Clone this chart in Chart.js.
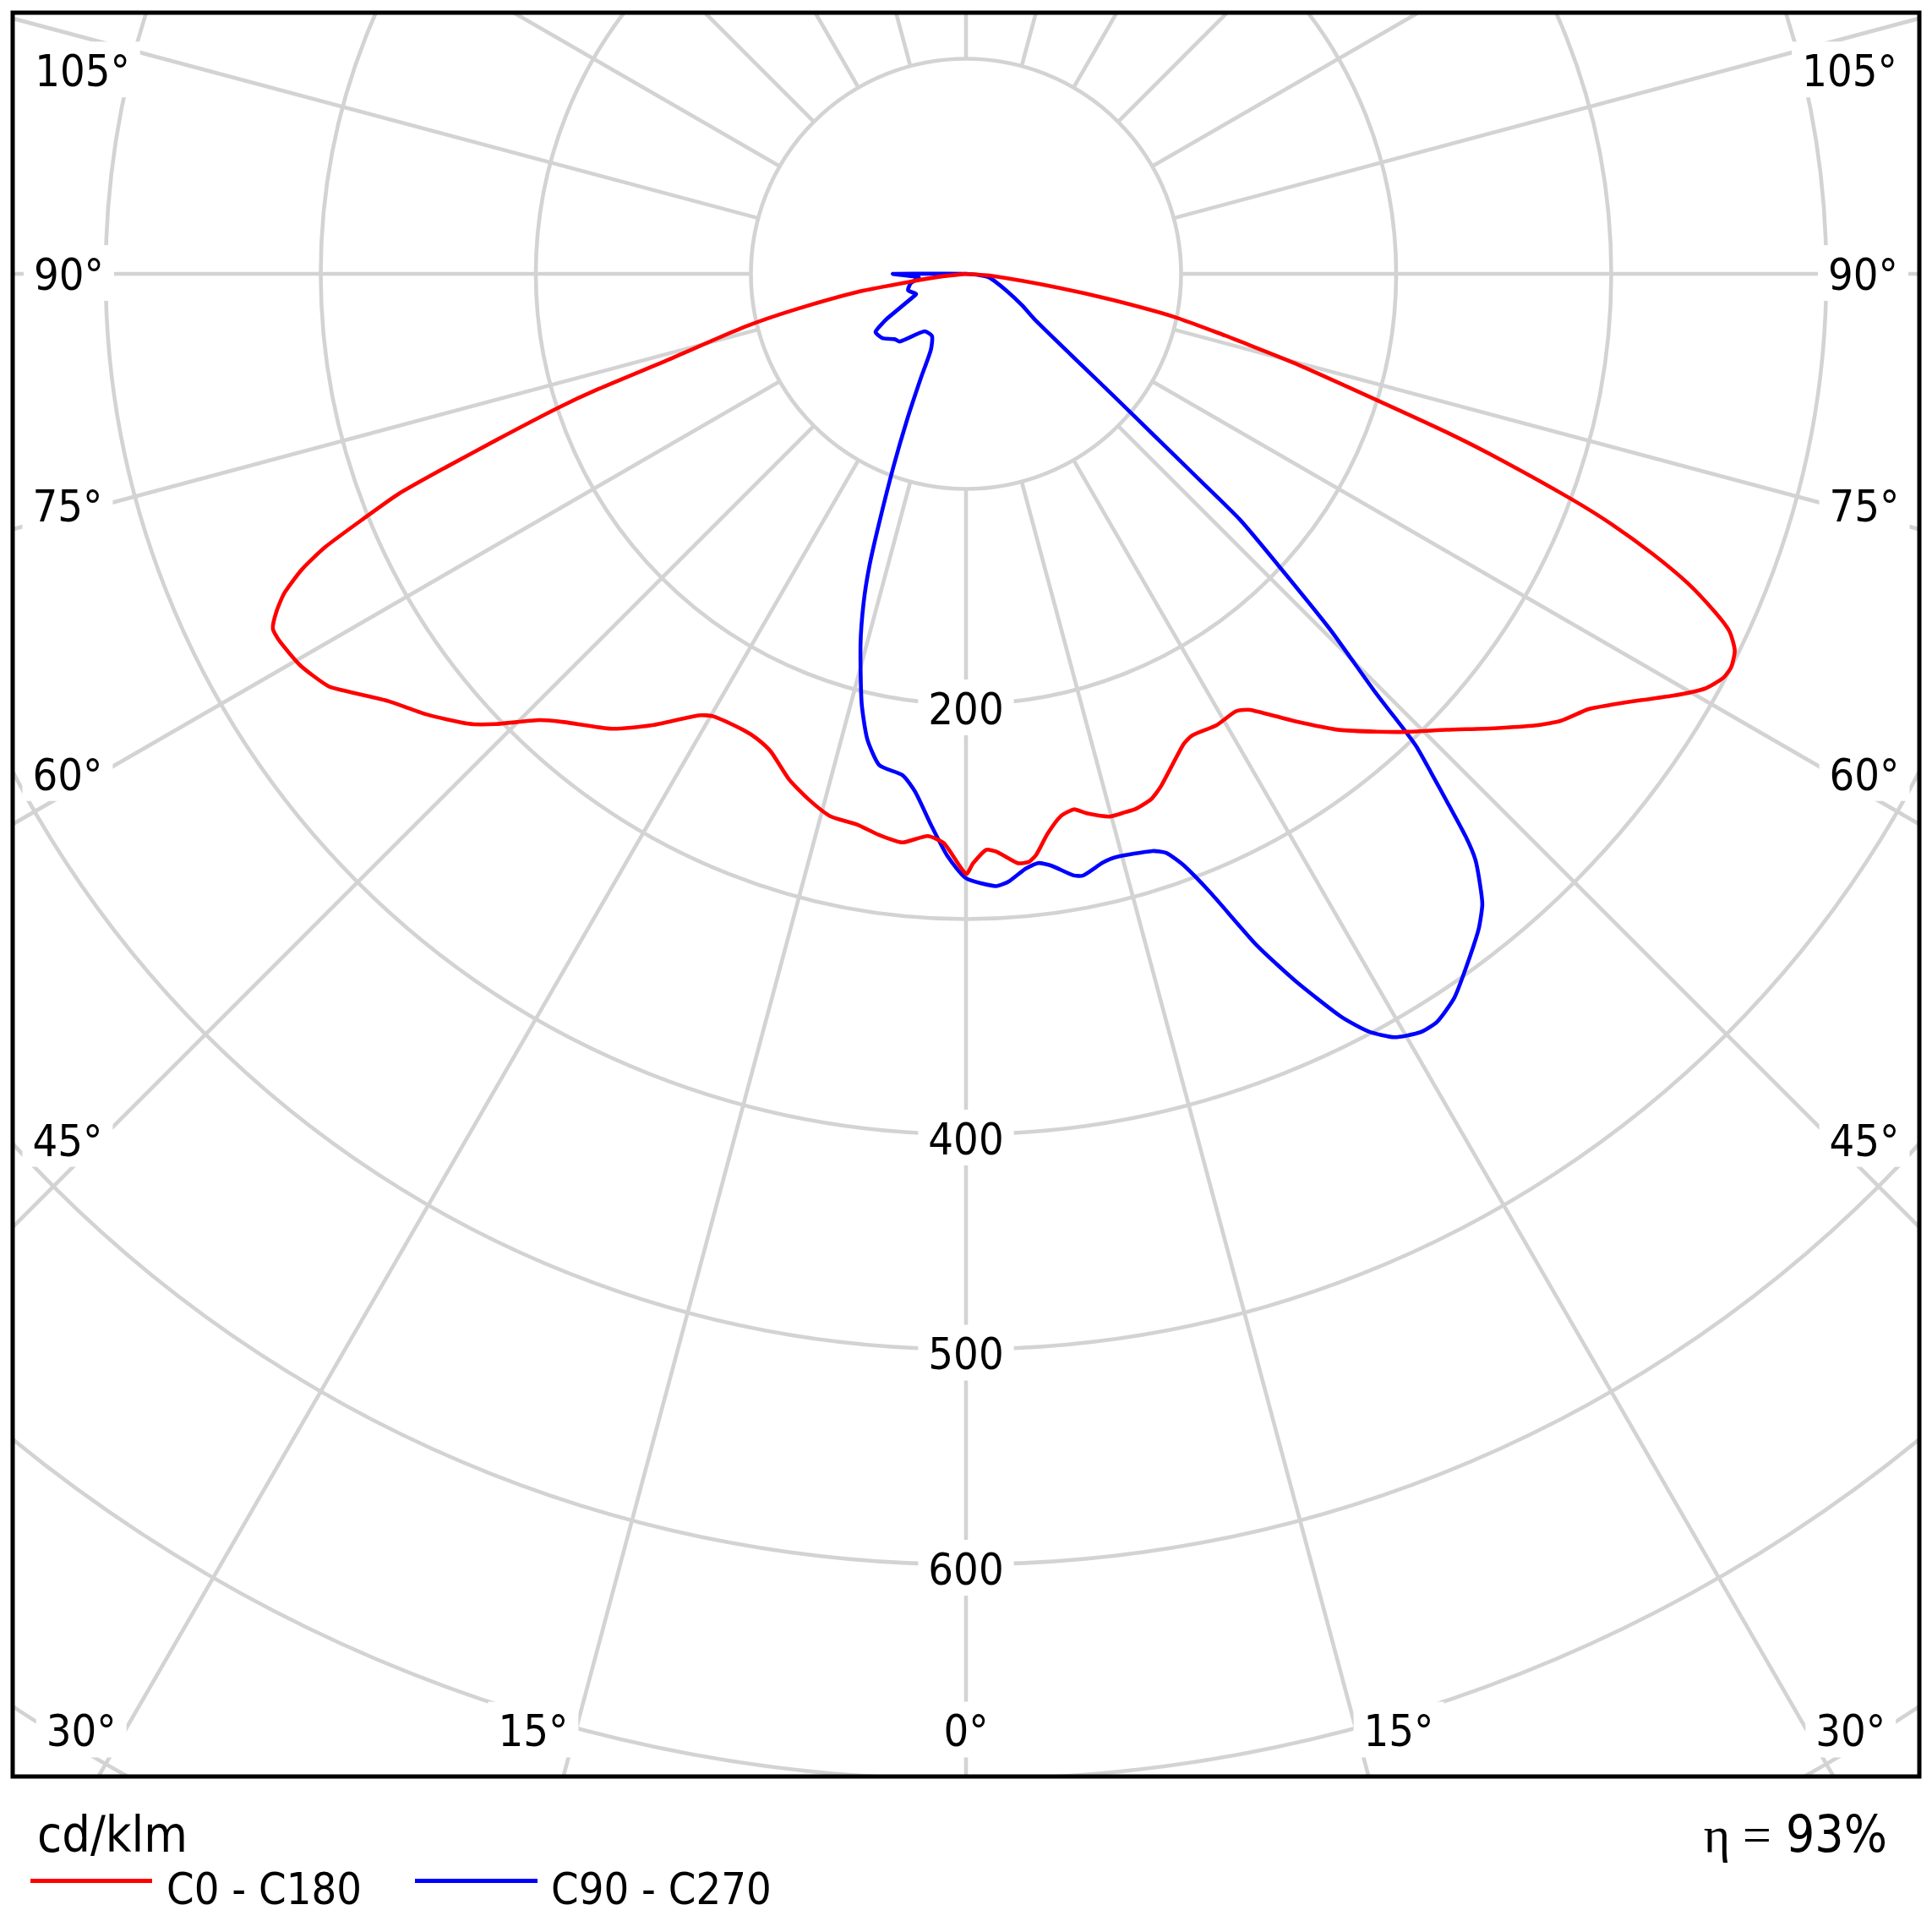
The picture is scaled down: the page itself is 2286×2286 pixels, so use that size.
<!DOCTYPE html>
<html>
<head>
<meta charset="utf-8">
<script src="https://cdn.jsdelivr.net/npm/chart.js@4.4.1/dist/chart.umd.min.js"></script>
<style>
  html, body { margin: 0; padding: 0; background: #fff; }
  #wrap { position: relative; width: 2286px; height: 2286px; background: #fff; }
  #c { position: absolute; left: 0; top: 0; }
  .txt { position: absolute; white-space: nowrap; color: #000; line-height: 1;
         font-family: 'DejaVu Sans Condensed', 'DejaVu Sans', sans-serif; }
  .swatch { position: absolute; height: 5px; }
</style>
</head>
<body>
<div id="wrap">
  <canvas id="c"></canvas>
  <div class="txt" id="unit" style="left:44px; top:2141px; font-size:59px;">cd/klm</div>
  <div class="swatch" style="left:36px; top:2223px; width:144px; background:#ff0000;"></div>
  <div class="txt" id="lg1" style="left:197px; top:2209px; font-size:52px;">C0 - C180</div>
  <div class="swatch" style="left:491px; top:2223px; width:145px; background:#0000ff;"></div>
  <div class="txt" id="lg2" style="left:652px; top:2209px; font-size:52px;">C90 - C270</div>
  <div class="txt" id="eta" style="right:53px; top:2140px; font-size:60px;"><span style="font-family:'Liberation Serif','DejaVu Serif',serif;">η =</span> 93%</div>
</div>
<script>
// ---- Data (cd/klm), angles in degrees from nadir ----
const ringValues = [100, 200, 300, 400, 500, 600, 700, 800];
const ringLabels = [200, 400, 500, 600];
const angleTicks = [0, 15, 30, 45, 60, 75, 90, 105];

// C0 - C180 (red)
const c180Angles = [0, 2.2, 3.9, 6.4, 8.8, 11.2, 14.0, 16.7, 19.3, 22.2, 24.2, 26.0, 29.8, 31.2, 34.9, 37.9, 41.9, 43.7, 46.3, 47.9, 50.8, 53.5, 55.8, 57.1, 59.5, 61.9, 62.9, 63.9, 64.9, 66.0, 66.9, 67.9, 68.8, 69.6, 70.5, 71.8, 72.6, 73.9, 76.5, 78.2, 80.6, 82.0, 84.1, 90];
const c180Values = [279, 265, 262, 266, 264, 261, 260, 255, 249, 240, 237, 236, 237, 240, 256, 268, 280, 287, 303, 312, 324, 334, 346, 353, 359, 362, 362, 357, 350, 338, 324, 302, 283, 258, 232, 200, 179, 144, 106, 81, 50, 26, 10, 0];
const c0Angles = [0, 0.7, 2.0, 3.0, 5.0, 6.1, 6.9, 8.3, 9.9, 11.4, 12.6, 14.8, 16.5, 17.6, 19.4, 20.8, 24.8, 26.1, 29.0, 31.7, 33.1, 36.3, 39.3, 41.9, 44.0, 46.5, 49.3, 51.6, 53.1, 55.0, 56.0, 57.7, 59.2, 60.7, 61.9, 62.8, 63.9, 64.9, 65.7, 66.8, 67.8, 68.8, 69.6, 70.8, 71.7, 72.9, 74.8, 76.1, 76.6, 78.3, 79.9, 81.5, 85.8, 90];
const c0Values = [279, 274, 268, 269, 275, 275, 272, 263, 256, 254, 257, 261, 261, 261, 259, 255, 241, 239, 240, 239, 242, 258, 274, 286, 296, 308, 324, 338, 346, 353, 359, 371, 383, 394, 399, 400, 398, 392, 382, 365, 345, 322, 300, 264, 237, 200, 158, 132, 124, 99, 69, 43, 11, 0];

// C90 - C270 (blue)
const c270Angles = [0, 1.8, 3.6, 5.6, 7.2, 10.0, 12.0, 13.7, 15.9, 17.3, 18.3, 19.2, 20.6, 22.0, 23.4, 24.8, 28.6, 35.9, 44.3, 47.5, 52.4, 57.3, 59.8, 60.5, 66.3, 67.9, 74.2, 80.4, 85.6, 90, 95];
const c270Values = [281, 271, 257, 242, 235, 232, 221, 205, 179, 160, 143, 123, 96, 73, 53, 39, 33, 33, 44, 45, 49, 50, 44, 42, 27, 25, 28, 26, 22, 34, 0];
const c90Angles = [0, 2.8, 4.1, 5.7, 7.0, 8.2, 10.1, 11.0, 13.1, 14.4, 17.9, 19.1, 20.2, 21.6, 23.4, 25.0, 26.8, 28.0, 29.3, 30.9, 32.2, 34.0, 35.7, 38.0, 39.3, 40.1, 41.0, 41.6, 42.3, 43.0, 43.6, 43.8, 44.4, 45.7, 47.0, 48.1, 48.6, 49.3, 50.4, 52.3, 56.5, 60.6, 67.7, 81.0, 85.8, 90];
const c90Values = [281, 285, 283, 278, 276, 278, 284, 285, 281, 280, 282, 285, 293, 310, 340, 363, 387, 399, 407, 411, 411, 406, 398, 387, 379, 371, 361, 350, 333, 317, 304, 297, 271, 236, 198, 171, 144, 116, 89, 62, 38, 30, 20, 11, 5, 0];

// ---- Layout (pixels) ----
const FRAME = { left: 15, top: 15, right: 2271, bottom: 2102 };
const CENTER = { x: 1143, y: 324 };
const PX_PER_UNIT = 2.545;
const FONT = "'DejaVu Sans Condensed', 'DejaVu Sans', sans-serif";

const xMin = -(CENTER.x - FRAME.left) / PX_PER_UNIT;
const xMax = (FRAME.right - CENTER.x) / PX_PER_UNIT;
const yMax = (CENTER.y - FRAME.top) / PX_PER_UNIT;
const yMin = -(FRAME.bottom - CENTER.y) / PX_PER_UNIT;

// angle label anchor points (value units, relative to the pole)
const angleLabelPos = {
  105: [410.8, 94.6], 90: [417.1, 0], 75: [417.7, -107.7], 60: [417.7, -232.5],
  45: [417.7, -402.6], 30: [411.3, -677.2], 15: [201.2, -677.2], 0: [0, -677.2]
};

function polarToXY(angles, values, side) {
  return angles.map((a, i) => {
    const t = a * Math.PI / 180;
    return { x: side * values[i] * Math.sin(t), y: -values[i] * Math.cos(t) };
  });
}
function pairCurve(leftA, leftV, rightA, rightV) {
  const left = polarToXY(leftA, leftV, -1).reverse();
  const right = polarToXY(rightA, rightV, 1);
  return left.concat(right.slice(1));
}

const polarGrid = {
  id: 'polarGrid',
  beforeDatasetsDraw(chart) {
    const { ctx, chartArea: ca, scales: { x, y } } = chart;
    const cx = x.getPixelForValue(0), cy = y.getPixelForValue(0);
    const upx = x.getPixelForValue(1) - cx;
    ctx.save();
    ctx.beginPath();
    ctx.rect(ca.left, ca.top, ca.right - ca.left, ca.bottom - ca.top);
    ctx.clip();
    ctx.strokeStyle = '#d3d3d3';
    ctx.lineWidth = 4.6;
    ringValues.forEach(r => {
      ctx.beginPath();
      ctx.arc(cx, cy, r * upx, 0, Math.PI * 2);
      ctx.stroke();
    });
    const r0 = ringValues[0] * upx;
    for (let a = 0; a < 360; a += 15) {
      const t = a * Math.PI / 180;
      ctx.beginPath();
      ctx.moveTo(cx + r0 * Math.sin(t), cy + r0 * Math.cos(t));
      ctx.lineTo(cx + 4000 * Math.sin(t), cy + 4000 * Math.cos(t));
      ctx.stroke();
    }
    // labels
    const fs = 52;
    ctx.font = fs + 'px ' + FONT;
    ctx.textAlign = 'center';
    ctx.textBaseline = 'alphabetic';
    const cap = fs * 0.73;
    function label(text, px, py) {
      const w = ctx.measureText(text).width;
      ctx.fillStyle = '#ffffff';
      ctx.fillRect(px - w / 2 - 12, py - cap / 2 - 15, w + 24, cap + 28);
      ctx.fillStyle = '#000000';
      ctx.fillText(text, px, py + cap / 2);
    }
    ringLabels.forEach(v => {
      label(String(v), cx, y.getPixelForValue(-v) + 5);
    });
    angleTicks.forEach(a => {
      const p = angleLabelPos[a];
      const sides = a === 0 ? [1] : [-1, 1];
      sides.forEach(s => {
        label(a + '°', x.getPixelForValue(s * p[0]), y.getPixelForValue(p[1]));
      });
    });
    ctx.restore();
  },
  afterDatasetsDraw(chart) {
    const { ctx, chartArea: ca } = chart;
    ctx.save();
    ctx.strokeStyle = '#000000';
    ctx.lineWidth = 5;
    ctx.strokeRect(ca.left, ca.top, ca.right - ca.left, ca.bottom - ca.top);
    ctx.restore();
  }
};

new Chart(document.getElementById('c'), {
  type: 'scatter',
  data: {
    datasets: [
      {
        label: 'C0 - C180',
        data: pairCurve(c180Angles, c180Values, c0Angles, c0Values),
        borderColor: '#ff0000', backgroundColor: '#ff0000',
        borderWidth: 4.6, showLine: true, pointRadius: 0, tension: 0.2, fill: false
      },
      {
        label: 'C90 - C270',
        data: pairCurve(c270Angles, c270Values, c90Angles, c90Values),
        borderColor: '#0000ff', backgroundColor: '#0000ff',
        borderWidth: 4.6, showLine: true, pointRadius: 0, tension: 0.2, fill: false
      }
    ]
  },
  options: {
    responsive: true,
    maintainAspectRatio: false,
    devicePixelRatio: 1,
    animation: false,
    events: [],
    layout: { padding: { left: FRAME.left, top: FRAME.top, right: 2286 - FRAME.right, bottom: 2286 - FRAME.bottom } },
    scales: {
      x: { type: 'linear', min: xMin, max: xMax, bounds: 'data', display: false },
      y: { type: 'linear', min: yMin, max: yMax, bounds: 'data', display: false }
    },
    plugins: { legend: { display: false }, tooltip: { enabled: false } }
  },
  plugins: [polarGrid]
});
</script>
</body>
</html>
